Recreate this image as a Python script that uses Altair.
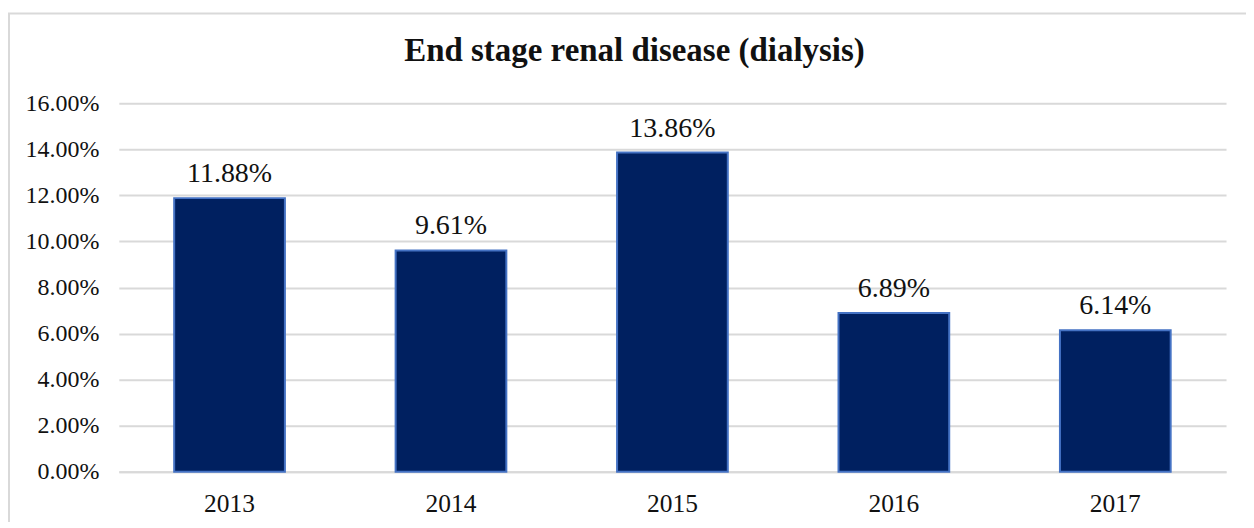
import altair as alt
import pandas as pd

years = ["2013", "2014", "2015", "2016", "2017"]
rates = [0.1188, 0.0961, 0.1386, 0.0689, 0.0614]

df = pd.DataFrame({"year": years, "rate": rates})

FONT = "Liberation Serif"
TXT = "#111111"

base = alt.Chart(df)

bars = base.mark_bar(color="#002060", stroke="#4472C4", strokeWidth=2).encode(
    x=alt.X(
        "year:N",
        sort=years,
        scale=alt.Scale(paddingInner=0.5, paddingOuter=0.25),
        axis=alt.Axis(
            title=None, labelAngle=0, ticks=False, labelPadding=20,
            labelFontSize=25.5, labelFont=FONT, labelColor=TXT,
            domainColor="#D9D9D9", domainWidth=2,
        ),
    ),
    y=alt.Y(
        "rate:Q",
        scale=alt.Scale(domain=[0, 0.16], nice=False),
        axis=alt.Axis(
            title=None, format=".2%", values=[0, 0.02, 0.04, 0.06, 0.08, 0.10, 0.12, 0.14, 0.16],
            ticks=False, domain=False, labelPadding=20,
            labelFontSize=24, labelFont=FONT, labelColor=TXT,
            gridColor="#D9D9D9", gridWidth=2,
        ),
    ),
)

labels = base.mark_text(
    font=FONT, fontSize=28, color=TXT, baseline="alphabetic", dy=-16
).encode(
    x=alt.X("year:N", sort=years),
    y="rate:Q",
    text=alt.Text("rate:Q", format=".2%"),
)

border = alt.Chart(pd.DataFrame({"a": [0]})).mark_rect(
    fill=None, stroke="#D9D9D9", strokeWidth=2
).encode(
    x=alt.value(-110), x2=alt.value(1143), y=alt.value(-90), y2=alt.value(440)
)

chart = alt.layer(border, bars, labels).properties(
    width=1109,
    height=369,
    padding={"left": 111, "top": 95, "right": 20, "bottom": 50},
    autosize=alt.AutoSizeParams(type="none"),
    title=alt.TitleParams(
        "End stage renal disease (dialysis)",
        font=FONT, fontSize=33, fontWeight="bold", color=TXT,
        anchor="middle", frame="bounds", baseline="alphabetic", offset=0, dy=82,
    ),
).configure_view(stroke=None)

chart.save("out.html", embed_options={"renderer": "svg", "actions": False})
